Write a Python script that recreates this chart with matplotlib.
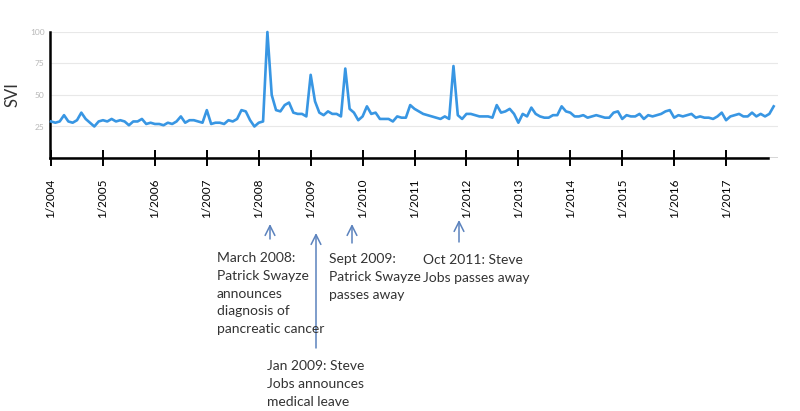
import numpy as np
import matplotlib
matplotlib.use("Agg")
import matplotlib.pyplot as plt
from matplotlib.patches import FancyArrowPatch

# monthly search volume index, Jan 2004 .. Dec 2017
svi_2004 = [29, 28, 29, 34, 29, 28, 30, 36, 31, 28, 25, 29]
svi_2005 = [30, 29, 31, 29, 30, 29, 26, 29, 29, 31, 27, 28]
svi_2006 = [27, 27, 26, 28, 27, 29, 33, 28, 30, 30, 29, 28]
svi_2007 = [38, 27, 28, 28, 27, 30, 29, 31, 38, 37, 30, 25]
svi_2008 = [28, 29, 100, 50, 38, 37, 42, 44, 36, 35, 35, 33]
svi_2009 = [66, 45, 36, 34, 37, 35, 35, 33, 71, 39, 36, 30]
svi_2010 = [33, 41, 35, 36, 31, 31, 31, 29, 33, 32, 32, 42]
svi_2011 = [39, 37, 35, 34, 33, 32, 31, 33, 31, 73, 34, 31]
svi_2012 = [35, 35, 34, 33, 33, 33, 32, 42, 36, 37, 39, 35]
svi_2013 = [28, 35, 33, 40, 35, 33, 32, 32, 34, 34, 41, 37]
svi_2014 = [36, 33, 33, 34, 32, 33, 34, 33, 32, 32, 36, 37]
svi_2015 = [31, 34, 33, 33, 35, 31, 34, 33, 34, 35, 37, 38]
svi_2016 = [32, 34, 33, 34, 35, 32, 33, 32, 32, 31, 33, 36]
svi_2017 = [30, 33, 34, 35, 33, 33, 36, 33, 35, 33, 35, 41]

svi = (svi_2004 + svi_2005 + svi_2006 + svi_2007 + svi_2008 + svi_2009 + svi_2010
       + svi_2011 + svi_2012 + svi_2013 + svi_2014 + svi_2015 + svi_2016 + svi_2017)
months = 2004 + np.arange(len(svi)) / 12.0

tick_years = list(range(2004, 2018))
tick_labels = [f"1/{y}" for y in tick_years]
y_ticks = [25, 50, 75, 100]

events = [
    "March 2008:\nPatrick Swayze\nannounces\ndiagnosis of\npancreatic cancer",
    "Jan 2009: Steve\nJobs announces\nmedical leave",
    "Sept 2009:\nPatrick Swayze\npasses away",
    "Oct 2011: Steve\nJobs passes away",
]

plt.rcParams["font.family"] = ["Lato", "DejaVu Sans"]

W, H = 800, 411
fig = plt.figure(figsize=(W / 100, H / 100), dpi=100)


def px(x, y):
    return (x / W, 1 - y / H)


ax = fig.add_axes([50 / W, 1 - 158 / H, 728 / W, 126 / H])
ax.plot(months, svi, color="#3896e3", lw=1.9, clip_on=False, zorder=3)
ax.set_xlim(2003.98, 2018.0)
ax.set_ylim(0, 100)

for v in y_ticks:
    ax.axhline(v, color="#e8e8e8", lw=0.8, zorder=0)
ax.axhline(0, color="#d0d0d0", lw=1.2, zorder=0)

ax.set_yticks(y_ticks)
ax.set_yticklabels([str(v) for v in y_ticks])
ax.tick_params(axis="y", length=0, labelsize=6, labelcolor="#b8b8b8", pad=4)

ax.set_xticks(tick_years)
ax.set_xticklabels(tick_labels, rotation=90, va="top", ha="center")
ax.tick_params(axis="x", direction="inout", length=12, width=1.4,
               labelsize=8.5, pad=9, color="black")

for s in ["top", "right"]:
    ax.spines[s].set_visible(False)
ax.spines["bottom"].set_bounds(2003.98, 2017.8)
ax.spines["bottom"].set_linewidth(1.8)
ax.spines["left"].set_linewidth(1.8)

fig.text(12 / W, 1 - 95 / H, "SVI", rotation=90, fontsize=12,
         color="#333333", ha="center", va="center")

# arrows pointing at the spikes
arrows = [(270, 239, 224), (316, 348, 233), (352, 243, 224), (459, 242, 220)]
for x, y0, y1 in arrows:
    fig.add_artist(FancyArrowPatch(
        px(x, y0), px(x, y1), transform=fig.transFigure,
        arrowstyle="->,head_length=0.7,head_width=0.35", mutation_scale=10,
        shrinkA=0, shrinkB=0, color="#5b82bd", lw=1.1))

text_pos = [(217, 252), (267, 360), (329, 253), (423, 254)]
for (x, y), t in zip(text_pos, events):
    fig.text(*px(x, y), t, fontsize=10, color="#333333", ha="left", va="top",
             linespacing=1.58)

fig.savefig("out.png", dpi=100, facecolor="white")
